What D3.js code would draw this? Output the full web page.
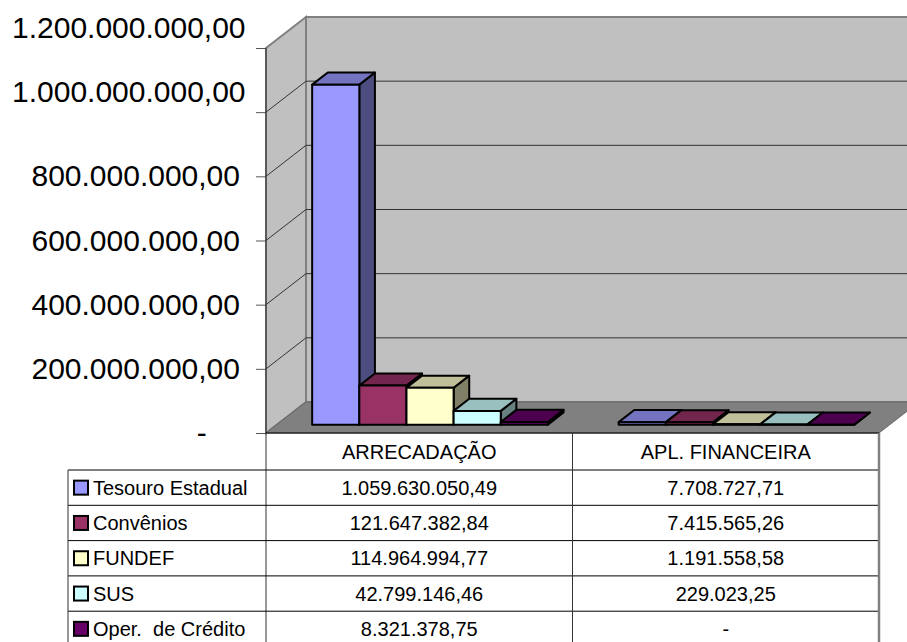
<!DOCTYPE html>
<html>
<head>
<meta charset="utf-8">
<script src="https://cdn.jsdelivr.net/npm/d3@7"></script>
<style>
body { margin: 0; background: #fff; }
text { font-family: "Liberation Sans", Arial, sans-serif; fill: #000; }
</style>
</head>
<body>
<svg id="chart" width="907" height="642"></svg>
<script>
var categories = ["ARRECADAÇÃO", "APL. FINANCEIRA"];
var seriesNames = ["Tesouro Estadual", "Convênios", "FUNDEF", "SUS", "Oper.  de Crédito"];
var arrecadacao = [1059630050.49, 121647382.84, 114964994.77, 42799146.46, 8321378.75];
var aplFinanceira = [7708727.71, 7415565.26, 1191558.58, 229023.25, 0];
var yTicks = [0, 200000000, 400000000, 600000000, 800000000, 1000000000, 1200000000];
var seriesColors = ["#9999ff", "#993366", "#ffffcc", "#ccffff", "#660066"];

var svg = d3.select("#chart");

// plot box (front plane) and oblique depth of the 3d walls
var plot = { left: 266, right: 879, top: 48, bottom: 433 };
var depth = { dx: 40, dy: -31 };
var barDepth = [0.27, 0.66];

var x = d3.scaleBand().domain(categories).range([plot.left, plot.right]);
var xs = d3.scaleBand().domain(seriesNames).range([0, x.bandwidth()]).paddingOuter(0.75);
var y = d3.scaleLinear().domain([0, 1200000000]).range([plot.bottom, plot.top]);

var ptBR = d3.formatLocale({ decimal: ",", thousands: ".", grouping: [3], currency: ["R$ ", ""] });
var fmt = ptBR.format(",.2f");
function fmtValue(v) { return v === 0 ? "-" : fmt(v); }

function P(xx, v, f) { return [xx + f * depth.dx, y(v) + f * depth.dy]; }
function poly(pts) { return "M" + pts.map(function (p) { return p[0] + "," + p[1]; }).join("L") + "Z"; }
function shade(c, k) {
    var r = d3.rgb(c);
    return d3.rgb(r.r * k, r.g * k, r.b * k).formatHex();
}

// walls
var yMax = y.domain()[1];
svg.append("path")
    .attr("d", poly([P(plot.left, yMax, 1), P(plot.right, yMax, 1), P(plot.right, 0, 1), P(plot.left, 0, 1)]))
    .attr("fill", "#c0c0c0").attr("stroke", "#808080").attr("stroke-width", 2);
svg.append("path")
    .attr("d", poly([P(plot.left, yMax, 0), P(plot.left, yMax, 1), P(plot.left, 0, 1), P(plot.left, 0, 0)]))
    .attr("fill", "#c0c0c0").attr("stroke", "#808080").attr("stroke-width", 2);

// gridlines on side + back wall
svg.append("g").selectAll("path")
    .data(yTicks.filter(function (v) { return v > 0 && v < yMax; }))
    .enter().append("path")
    .attr("d", function (v) {
        var a = P(plot.left, v, 0), b = P(plot.left, v, 1), c = P(plot.right, v, 1);
        return "M" + a + "L" + b + "L" + c;
    })
    .attr("fill", "none").attr("stroke", "#333").attr("stroke-width", 1);

// floor
svg.append("path")
    .attr("d", poly([P(plot.left, 0, 0), P(plot.right, 0, 0), P(plot.right, 0, 1), P(plot.left, 0, 1)]))
    .attr("fill", "#808080").attr("stroke", "#666").attr("stroke-width", 1);

// bars, left to right so each front face covers the neighbour's side
var barData = [];
categories.forEach(function (cat, ci) {
    var vals = ci === 0 ? arrecadacao : aplFinanceira;
    seriesNames.forEach(function (s, si) {
        barData.push({ cat: cat, s: s, v: vals[si], color: seriesColors[si] });
    });
});

var bars = svg.append("g").selectAll("g")
    .data(barData)
    .enter().append("g")
    .attr("stroke", "#000").attr("stroke-width", 2).attr("stroke-linejoin", "round");

bars.each(function (d) {
    var g = d3.select(this);
    var x0 = x(d.cat) + xs(d.s), x1 = x0 + xs.bandwidth();
    var f0 = barDepth[0], f1 = barDepth[1];
    g.append("path").attr("fill", shade(d.color, 0.5))
        .attr("d", poly([P(x1, 0, f0), P(x1, 0, f1), P(x1, d.v, f1), P(x1, d.v, f0)]));
    g.append("path").attr("fill", shade(d.color, 0.75))
        .attr("d", poly([P(x0, d.v, f0), P(x1, d.v, f0), P(x1, d.v, f1), P(x0, d.v, f1)]));
    g.append("path").attr("fill", d.color)
        .attr("d", poly([P(x0, 0, f0), P(x1, 0, f0), P(x1, d.v, f0), P(x0, d.v, f0)]));
});

// value axis
var axisFont = 30;
var axis = d3.axisLeft(y).tickValues(yTicks).tickSize(10).tickPadding(16).tickFormat(fmtValue);
var gAxis = svg.append("g").attr("transform", "translate(" + plot.left + ",0)").call(axis);
gAxis.select(".domain").remove();
gAxis.selectAll(".tick line").attr("stroke", "#555");
gAxis.selectAll(".tick text")
    .style("font-size", axisFont + "px")
    .attr("dx", function (v) { return v === 0 ? -2 * 0.556 * axisFont : 0; });
// labels that run off the left edge get nudged right and up, like the original
gAxis.selectAll(".tick text").each(function () {
    var t = d3.select(this);
    var w = this.getComputedTextLength();
    var left = plot.left - 10 - 16 - w;
    if (left < 12) {
        t.attr("dx", 12 - left).attr("dy", "-0.35em");
    }
});

svg.append("line")
    .attr("x1", plot.left).attr("x2", plot.left)
    .attr("y1", plot.top).attr("y2", 642)
    .attr("stroke", "#333").attr("stroke-width", 1);

// data table
var tableLeft = 68, headerBottom = 470, rowH = 35.3, tableFont = 20;
var tbl = svg.append("g");

tbl.append("line").attr("x1", plot.left).attr("x2", plot.right)
    .attr("y1", plot.bottom).attr("y2", plot.bottom).attr("stroke", "#000");
[headerBottom].concat(seriesNames.map(function (s, i) { return headerBottom + (i + 1) * rowH; }))
    .forEach(function (yy) {
        tbl.append("line").attr("x1", tableLeft).attr("x2", plot.right)
            .attr("y1", yy).attr("y2", yy).attr("stroke", "#000");
    });
tbl.append("line").attr("x1", tableLeft).attr("x2", tableLeft)
    .attr("y1", headerBottom).attr("y2", 642).attr("stroke", "#333");
tbl.append("line").attr("x1", x(categories[1])).attr("x2", x(categories[1]))
    .attr("y1", plot.bottom).attr("y2", 642).attr("stroke", "#333");
tbl.append("line").attr("x1", plot.right).attr("x2", plot.right)
    .attr("y1", plot.bottom).attr("y2", 642).attr("stroke", "#808080").attr("stroke-width", 2.5);

tbl.selectAll(".colhead")
    .data(categories)
    .enter().append("text")
    .attr("class", "colhead")
    .attr("x", function (c) { return x(c) + x.bandwidth() / 2; })
    .attr("y", (plot.bottom + headerBottom) / 2)
    .attr("dy", "0.36em")
    .attr("text-anchor", "middle")
    .style("font-size", tableFont + "px")
    .text(function (c) { return c; });

var rows = tbl.selectAll(".row")
    .data(seriesNames)
    .enter().append("g")
    .attr("class", "row")
    .attr("transform", function (s, i) { return "translate(0," + (headerBottom + i * rowH + rowH / 2) + ")"; });

rows.append("rect")
    .attr("x", 74).attr("y", -7).attr("width", 14).attr("height", 14)
    .attr("fill", function (s, i) { return seriesColors[i]; })
    .attr("stroke", "#000").attr("stroke-width", 2);

rows.append("text")
    .attr("x", 93).attr("dy", "0.36em")
    .style("font-size", tableFont + "px")
    .style("white-space", "pre")
    .text(function (s) { return s; });

rows.each(function (s, i) {
    var r = d3.select(this);
    [arrecadacao[i], aplFinanceira[i]].forEach(function (v, ci) {
        r.append("text")
            .attr("x", x(categories[ci]) + x.bandwidth() / 2)
            .attr("dy", "0.36em")
            .attr("text-anchor", "middle")
            .style("font-size", tableFont + "px")
            .text(fmtValue(v));
    });
});
</script>
</body>
</html>
